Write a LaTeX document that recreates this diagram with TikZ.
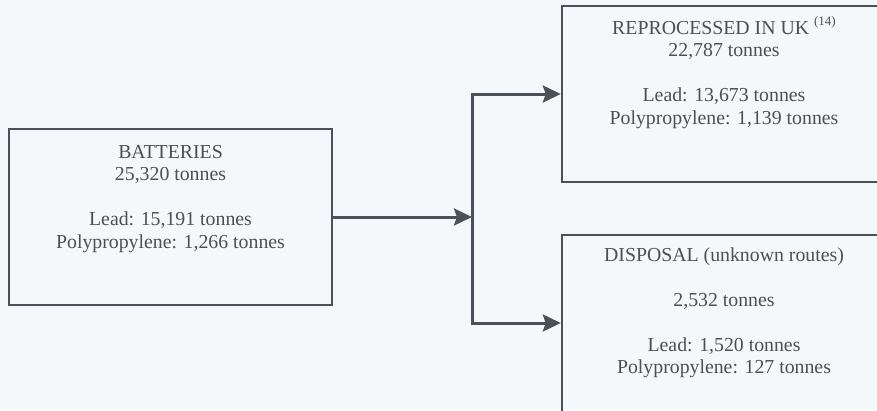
\documentclass[tikz,border=0pt]{standalone}
\usepackage{fontspec}
\setmainfont{Liberation Serif}
\usetikzlibrary{arrows.meta}
\definecolor{paper}{HTML}{F4F8FA}
\definecolor{ink}{HTML}{4B5159}
\definecolor{txt}{HTML}{4C5055}

\begin{document}
\begin{tikzpicture}[x=1pt,y=-1pt,
  flowbox/.style={draw=ink,line width=2.4pt,minimum width=323pt,minimum height=176pt,inner sep=0pt},
  boxtext/.style={anchor=north,inner sep=0pt,align=center,text=txt,
    font=\fontsize{19.8}{22.5}\selectfont},
  flow/.style={draw=ink,line width=3pt,-{Stealth[length=18pt,width=17pt,inset=3pt,fill=ink]}}]

% page and clipping frame
\fill[paper] (0,0) rectangle (877,410);
\useasboundingbox (0,0) rectangle (877,410);
\clip (0,0) rectangle (877,410);

% boxes
\node[flowbox] (b) at (170.5,217) {};
\node[flowbox,minimum width=324pt] (r) at (724,94) {};
\node[flowbox,minimum width=324pt,minimum height=182pt] (d) at (724,326) {};

% box texts
\node[boxtext] (bt) at ([yshift=-17pt]b.north) {BATTERIES\\25,320 tonnes\\[22.5pt]Lead: 15,191 tonnes\\Polypropylene: 1,266 tonnes};
\node[boxtext] (rt) at ([yshift=-16pt]r.north) {REPROCESSED IN UK \smash{\raisebox{9pt}{\fontsize{13}{13}\selectfont(14)}}\\22,787 tonnes\\[22.5pt]Lead: 13,673 tonnes\\Polypropylene: 1,139 tonnes};
\node[boxtext] (dt) at ([yshift=-13.5pt]d.north) {DISPOSAL (unknown routes)\\[22.5pt]2,532 tonnes\\[22.5pt]Lead: 1,520 tonnes\\Polypropylene: 127 tonnes};

% connectors
\coordinate (j) at (472,217);
\draw[flow] (b.east) -- (j);
\draw[flow] (j) |- (r.west);
\draw[flow] (j) |- ([yshift=3pt]d.west);
\end{tikzpicture}
\end{document}
